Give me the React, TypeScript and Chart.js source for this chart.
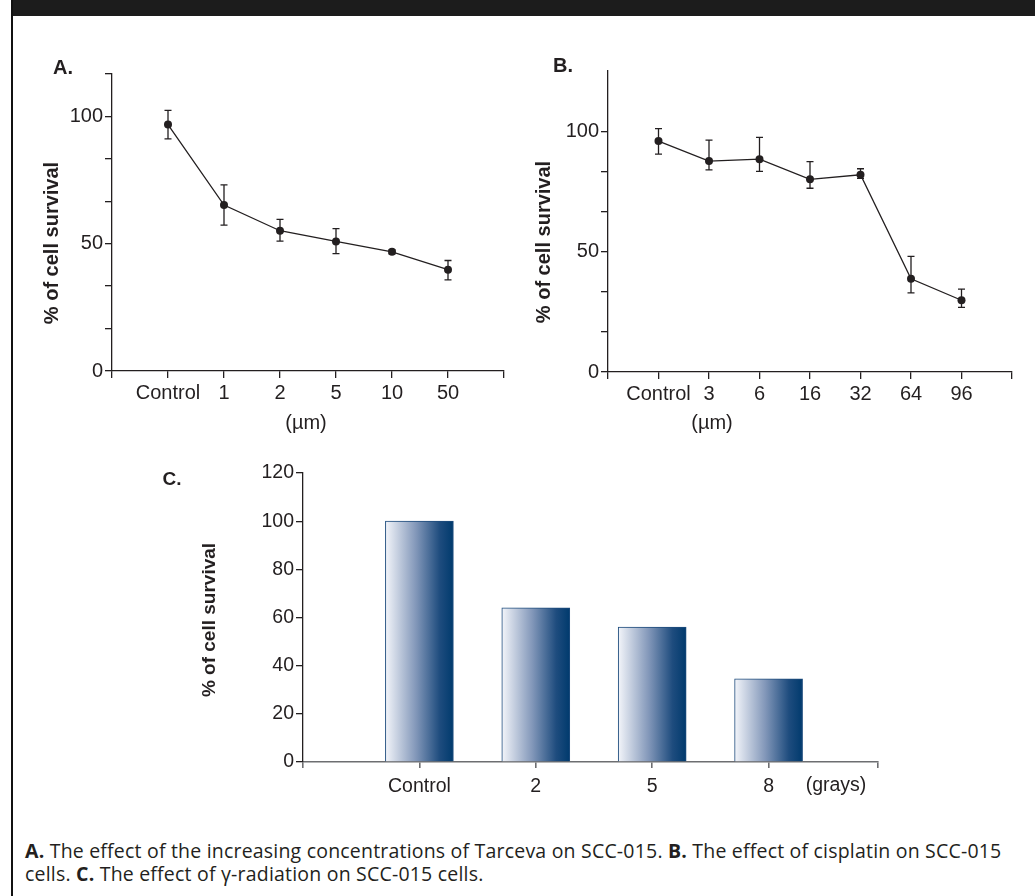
import React, { useEffect, useRef } from 'react';
import { Chart, registerables } from 'chart.js';

Chart.register(...registerables);

// ---------- data ----------
const catsA = ['Control', '1', '2', '5', '10', '50'];
const valsA = [96.8, 65.2, 55.1, 50.9, 46.8, 39.8];
const errHiA = [5.6, 7.9, 4.5, 5.0, 0.8, 3.6];
const errLoA = [5.6, 7.9, 4.1, 4.8, 0.8, 4.0];

const catsB = ['Control', '3', '6', '16', '32', '64', '96'];
const valsB = [95.9, 87.6, 88.4, 80.0, 81.9, 38.7, 29.8];
const errHiB = [5.2, 8.7, 9.0, 7.4, 2.5, 9.3, 4.6];
const errLoB = [5.4, 3.7, 5.1, 3.7, 1.5, 5.8, 3.0];

const catsC = ['Control', '2', '5', '8'];
const valsC = [100, 64, 56, 34.5];

const yTicksAB = [0, 50 / 3, 100 / 3, 50, 200 / 3, 250 / 3, 100, 350 / 3];
const yTicksB = [0, 50 / 3, 100 / 3, 50, 200 / 3, 250 / 3, 100];
const yLabelsAB = [0, 50, 100];
const yTicksC = [0, 20, 40, 60, 80, 100, 120];

const INK = '#231f20';
const FAMILY = '"Liberation Sans", Arial, Helvetica, sans-serif';

// ---------- plugins ----------
const errorBarPlugin = {
  id: 'errorBars',
  beforeDatasetsDraw(chart: any, _args: any, opts: any) {
    if (!opts || !opts.hi) return;
    const meta = chart.getDatasetMeta(0);
    const ys = chart.scales.y;
    const ctx = chart.ctx;
    const cap = opts.cap ?? 3.5;
    ctx.save();
    ctx.strokeStyle = opts.color || INK;
    ctx.lineWidth = opts.width || 1.3;
    meta.data.forEach((pt: any, i: number) => {
      const v = chart.data.datasets[0].data[i].y;
      const yTop = ys.getPixelForValue(v + opts.hi[i]);
      const yBot = ys.getPixelForValue(v - opts.lo[i]);
      const x = pt.x;
      ctx.beginPath();
      ctx.moveTo(x, yTop);
      ctx.lineTo(x, yBot);
      ctx.moveTo(x - cap, yTop);
      ctx.lineTo(x + cap, yTop);
      ctx.moveTo(x - cap, yBot);
      ctx.lineTo(x + cap, yBot);
      ctx.stroke();
    });
    ctx.restore();
  },
};

// ---------- helpers ----------
function yScale(max: number, ticks: number[], labelFn: (v: number) => string, width: number, fontSize: number) {
  return {
    type: 'linear',
    min: 0,
    max,
    afterBuildTicks: (s: any) => {
      s.ticks = ticks.map((v) => ({ value: v }));
    },
    afterFit: (s: any) => {
      s.width = width;
    },
    ticks: {
      autoSkip: false,
      padding: 2,
      color: INK,
      font: { family: FAMILY, size: fontSize },
      callback: (v: number) => labelFn(v),
    },
    grid: { drawOnChartArea: false, drawTicks: true, tickLength: 7, color: INK, lineWidth: 1.3 },
    border: { display: true, color: INK, width: 1.3 },
  };
}

function xScale(
  min: number,
  max: number,
  cats: string[],
  height: number,
  fontSize: number,
  lineColor: string,
  lineWidth: number,
  tickLen: number,
  pad: number
) {
  return {
    type: 'linear',
    min,
    max,
    offset: false,
    afterBuildTicks: (s: any) => {
      const t: any[] = [];
      for (let i = Math.ceil(min); i <= Math.floor(max); i++) t.push({ value: i });
      if (t[t.length - 1].value !== max) t.push({ value: max });
      s.ticks = t;
    },
    afterFit: (s: any) => {
      s.height = height;
    },
    ticks: {
      autoSkip: false,
      maxRotation: 0,
      minRotation: 0,
      padding: pad,
      color: INK,
      font: { family: FAMILY, size: fontSize },
      callback: (v: number) => {
        const i = Math.round(v);
        return Math.abs(v - i) < 1e-6 && i >= 0 && i < cats.length ? cats[i] : '';
      },
    },
    grid: { offset: false, drawOnChartArea: false, drawTicks: true, tickLength: tickLen, color: lineColor, lineWidth },
    border: { display: true, color: lineColor, width: lineWidth },
  };
}

const abLabel = (v: number) => {
  const hit = yLabelsAB.find((l) => Math.abs(l - v) < 1e-6);
  return hit === undefined ? '' : String(hit);
};

function lineConfig(
  cats: string[],
  vals: number[],
  hi: number[],
  lo: number[],
  yMax: number,
  yTicks: number[],
  geom: { yWidth: number; padTop: number; padRight: number; xHeight: number }
): any {
  return {
    type: 'line',
    data: {
      datasets: [
        {
          data: vals.map((v, i) => ({ x: i, y: v })),
          borderColor: INK,
          borderWidth: 1.3,
          pointRadius: 4,
          pointBackgroundColor: INK,
          pointBorderColor: INK,
          pointBorderWidth: 0,
          tension: 0,
          fill: false,
        },
      ],
    },
    options: {
      responsive: false,
      animation: false,
      events: [],
      layout: { padding: { left: 0, top: geom.padTop, right: geom.padRight, bottom: 0 } },
      plugins: {
        legend: { display: false },
        tooltip: { enabled: false },
        errorBars: { hi, lo, cap: 3.5, width: 1.3, color: INK },
      },
      scales: {
        x: xScale(-1, cats.length, cats, geom.xHeight, 20, INK, 1.3, 7, 3),
        y: yScale(yMax, yTicks, abLabel, geom.yWidth, 20),
      },
    },
    plugins: [errorBarPlugin],
  };
}

function barConfig(): any {
  const half = 34;
  return {
    type: 'bar',
    data: {
      datasets: [
        {
          data: valsC.map((v, i) => ({ x: i, y: v })),
          barThickness: 68,
          borderWidth: 1,
          borderColor: '#1d4b7c',
          borderSkipped: 'bottom',
          backgroundColor: (c: any) => {
            const chart = c.chart;
            const xs = chart.scales && chart.scales.x;
            if (!xs || c.type !== 'data' || !chart.chartArea) return '#5a74a0';
            const cx = xs.getPixelForValue(c.dataIndex);
            const g = chart.ctx.createLinearGradient(cx - half, 0, cx + half, 0);
            g.addColorStop(0, '#f3f5fa');
            g.addColorStop(0.45, '#8297b9');
            g.addColorStop(0.8, '#1e4c7e');
            g.addColorStop(1, '#003a6d');
            return g;
          },
        },
      ],
    },
    options: {
      responsive: false,
      animation: false,
      events: [],
      layout: { padding: { left: 0, top: 23, right: 12, bottom: 0 } },
      plugins: { legend: { display: false }, tooltip: { enabled: false } },
      scales: {
        x: xScale(-1, 3.94, catsC, 38, 19.5, '#6d6e71', 1.6, 6, 7),
        y: yScale(120, yTicksC, (v: number) => String(Math.round(v)), 153, 19.5),
      },
    },
  };
}

// ---------- components ----------
function ChartBox(props: { left: number; top: number; width: number; height: number; make: () => any }) {
  const ref = useRef<HTMLCanvasElement>(null);
  useEffect(() => {
    const chart = new Chart(ref.current as HTMLCanvasElement, props.make());
    return () => chart.destroy();
  }, []);
  return (
    <canvas
      ref={ref}
      width={props.width}
      height={props.height}
      style={{ position: 'absolute', left: props.left, top: props.top, width: props.width, height: props.height }}
    />
  );
}

function Txt(props: { x: number; y: number; size: number; bold?: boolean; rotate?: boolean; children: React.ReactNode }) {
  return (
    <div
      style={{
        position: 'absolute',
        left: props.x,
        top: props.y,
        transform: `translate(-50%, -50%)${props.rotate ? ' rotate(-90deg)' : ''}`,
        whiteSpace: 'nowrap',
        fontFamily: FAMILY,
        fontSize: props.size,
        fontWeight: props.bold ? 'bold' : 'normal',
        color: INK,
        lineHeight: 1,
      }}
    >
      {props.children}
    </div>
  );
}

export default function App() {
  return (
    <div style={{ position: 'absolute', left: 0, top: 0, width: 1035, height: 896, background: '#fff', overflow: 'hidden' }}>
      <div style={{ position: 'absolute', left: 11, top: 0, width: 1024, height: 16, background: '#1c1c1c' }} />
      <div style={{ position: 'absolute', left: 11, top: 0, width: 2, height: 896, background: '#111' }} />

      <ChartBox
        left={40}
        top={50}
        width={480}
        height={370}
        make={() => lineConfig(catsA, valsA, errHiA, errLoA, 350 / 3, yTicksAB, { yWidth: 72, padTop: 24, padRight: 16, xHeight: 49 })}
      />
      <ChartBox
        left={520}
        top={50}
        width={515}
        height={370}
        make={() => lineConfig(catsB, valsB, errHiB, errLoB, 125, yTicksB, { yWidth: 88, padTop: 21, padRight: 23, xHeight: 48 })}
      />
      <ChartBox left={150} top={450} width={740} height={350} make={barConfig} />

      <Txt x={63} y={67} size={20} bold>A.</Txt>
      <Txt x={563} y={65} size={20} bold>B.</Txt>
      <Txt x={172} y={478} size={19} bold>C.</Txt>

      <Txt x={51} y={243} size={20} bold rotate>% of cell survival</Txt>
      <Txt x={543} y={242} size={20} bold rotate>% of cell survival</Txt>
      <Txt x={208} y={620} size={19} bold rotate>% of cell survival</Txt>

      <Txt x={306} y={422} size={20}>(µm)</Txt>
      <Txt x={712} y={422} size={20}>(µm)</Txt>
      <Txt x={836} y={785} size={19.5}>(grays)</Txt>

      <div
        style={{
          position: 'absolute',
          left: 25,
          top: 839,
          fontFamily: '"Open Sans", "Noto Sans", sans-serif',
          fontSize: 19.5,
          letterSpacing: '0.2px',
          lineHeight: '23px',
          color: INK,
          whiteSpace: 'nowrap',
        }}
      >
        <b>A.</b> The effect of the increasing concentrations of Tarceva on SCC-015. <b>B.</b> The effect of cisplatin on SCC-015
        <br />
        cells. <b>C.</b> The effect of γ-radiation on SCC-015 cells.
      </div>
    </div>
  );
}
